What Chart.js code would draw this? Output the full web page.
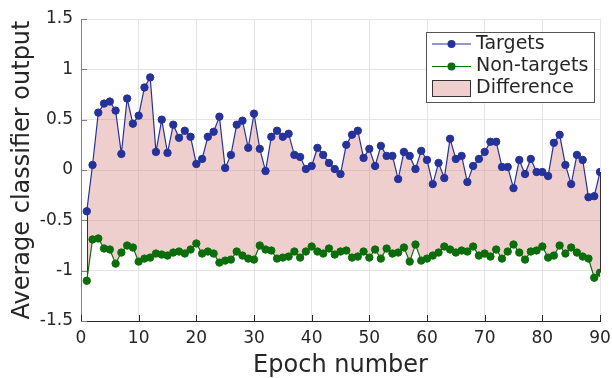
<!DOCTYPE html>
<html>
<head>
<meta charset="utf-8">
<script src="https://cdn.jsdelivr.net/npm/chart.js@4"></script>
<style>
  html, body { margin: 0; padding: 0; background: #fff; }
  #wrap { width: 612px; height: 378px; }
</style>
</head>
<body>
<div id="wrap"><canvas id="lineChart" width="612" height="378"></canvas></div>
<script>
const epochs = [1,2,3,4,5,6,7,8,9,10,11,12,13,14,15,16,17,18,19,20,
  21,22,23,24,25,26,27,28,29,30,31,32,33,34,35,36,37,38,39,40,
  41,42,43,44,45,46,47,48,49,50,51,52,53,54,55,56,57,58,59,60,
  61,62,63,64,65,66,67,68,69,70,71,72,73,74,75,76,77,78,79,80,
  81,82,83,84,85,86,87,88,89,90]

const targets = [-0.41,0.05,0.57,0.66,0.68,0.59,0.16,0.71,0.46,0.54,
  0.82,0.92,0.18,0.50,0.17,0.45,0.32,0.39,0.33,0.06,
  0.11,0.33,0.38,0.53,0.02,0.15,0.45,0.49,0.22,0.56,
  0.21,-0.01,0.33,0.39,0.33,0.36,0.15,0.13,0.01,0.04,
  0.22,0.15,0.07,0.01,-0.04,0.25,0.35,0.39,0.12,0.21,
  0.04,0.24,0.14,0.14,-0.09,0.18,0.14,0.01,0.19,0.10,
  -0.14,0.07,-0.08,0.31,0.11,0.14,-0.12,0.04,0.11,0.18,
  0.28,0.28,0.03,0.03,-0.18,0.10,-0.04,0.11,-0.02,-0.02,
  -0.06,0.27,0.35,0.05,-0.14,0.15,0.10,-0.27,-0.26,-0.02]

const nonTargets = [-1.10,-0.69,-0.68,-0.78,-0.79,-0.93,-0.82,-0.75,-0.77,-0.91,
  -0.88,-0.87,-0.83,-0.84,-0.85,-0.82,-0.81,-0.83,-0.79,-0.73,
  -0.83,-0.81,-0.83,-0.92,-0.90,-0.89,-0.81,-0.85,-0.88,-0.89,
  -0.75,-0.79,-0.80,-0.88,-0.87,-0.86,-0.81,-0.87,-0.81,-0.76,
  -0.81,-0.83,-0.78,-0.84,-0.81,-0.80,-0.87,-0.86,-0.81,-0.87,
  -0.79,-0.88,-0.78,-0.83,-0.82,-0.77,-0.91,-0.74,-0.90,-0.88,
  -0.85,-0.82,-0.76,-0.79,-0.82,-0.80,-0.81,-0.76,-0.85,-0.83,
  -0.86,-0.79,-0.88,-0.81,-0.74,-0.82,-0.89,-0.81,-0.80,-0.76,
  -0.87,-0.85,-0.75,-0.83,-0.77,-0.82,-0.86,-0.88,-1.07,-1.02]

const xTicks = [0,10,20,30,40,50,60,70,80,90]
const yTicks = [-1.5,-1,-0.5,0,0.5,1,1.5]
const yTickLabels = ['-1.5','-1','-0.5','0','0.5','1','1.5']
const seriesNames = ['Targets','Non-targets','Difference']

const blue = '#25329a'
const green = '#0b6e0b'
const pink = 'rgba(212,122,122,0.37)'
const textColor = '#262626'
const fontFamily = '"DejaVu Sans", sans-serif'

const toPoints = (ys) => ys.map((y, i) => ({ x: epochs[i], y: y }))

// inward tick marks plus dark edges of the difference patch
const axisExtras = {
    id: 'axisExtras',
    beforeDatasetsDraw(chart) {
        const { ctx, scales: { x, y } } = chart
        ctx.save()
        ctx.strokeStyle = '#333'
        ctx.lineWidth = 1
        ;[0, epochs.length - 1].forEach(i => {
            const px = Math.round(x.getPixelForValue(epochs[i])) + 0.5
            ctx.beginPath()
            ctx.moveTo(px, y.getPixelForValue(targets[i]))
            ctx.lineTo(px, y.getPixelForValue(nonTargets[i]))
            ctx.stroke()
        })
        ctx.restore()
    },
    afterDraw(chart) {
        const { ctx, chartArea, scales: { x, y } } = chart
        ctx.save()
        ctx.lineWidth = 1
        ctx.strokeStyle = '#262626'
        xTicks.forEach(v => {
            const px = Math.round(x.getPixelForValue(v)) + 0.5
            ctx.beginPath()
            ctx.moveTo(px, chartArea.bottom)
            ctx.lineTo(px, chartArea.bottom - 6)
            ctx.stroke()
        })
        ctx.strokeStyle = '#808080'
        yTicks.forEach(v => {
            const py = Math.round(y.getPixelForValue(v)) + 0.5
            ctx.beginPath()
            ctx.moveTo(chartArea.left, py)
            ctx.lineTo(chartArea.left + 6, py)
            ctx.stroke()
        })
        ctx.restore()
    }
}

// matlab style legend box
const boxLegend = {
    id: 'boxLegend',
    afterDraw(chart) {
        const { ctx } = chart
        const left = 426.5, top = 32.5, w = 168, h = 70
        ctx.save()
        ctx.fillStyle = '#fff'
        ctx.fillRect(left, top, w, h)
        ctx.strokeStyle = '#555'
        ctx.lineWidth = 1
        ctx.strokeRect(left, top, w, h)

        const rows = [44, 66.5, 88]
        const colors = [blue, green]
        for (let i = 0; i < 2; i++) {
            ctx.strokeStyle = colors[i]
            ctx.lineWidth = 1.2
            ctx.beginPath()
            ctx.moveTo(432, rows[i])
            ctx.lineTo(471, rows[i])
            ctx.stroke()
            ctx.fillStyle = colors[i]
            ctx.beginPath()
            ctx.arc(451.5, rows[i], 4, 0, Math.PI * 2)
            ctx.fill()
        }
        ctx.fillStyle = pink
        ctx.fillRect(432.5, 80.5, 38, 16)
        ctx.strokeStyle = '#333'
        ctx.lineWidth = 1
        ctx.strokeRect(432.5, 80.5, 38, 16)

        ctx.fillStyle = textColor
        ctx.font = '19px ' + fontFamily
        ctx.textBaseline = 'middle'
        ctx.textAlign = 'left'
        seriesNames.forEach((name, i) => ctx.fillText(name, 476, rows[i]))
        ctx.restore()
    }
}

const lineChart = new Chart(document.getElementById('lineChart'), {
    type: 'line',
    data: {
        datasets: [{
            label: seriesNames[0],
            data: toPoints(targets),
            borderColor: blue,
            backgroundColor: blue,
            borderWidth: 1.2,
            pointRadius: 3.7,
            pointBorderWidth: 1,
            pointBorderColor: blue,
            pointBackgroundColor: blue,
            tension: 0,
            fill: { target: 1, above: pink, below: pink }
        }, {
            label: seriesNames[1],
            data: toPoints(nonTargets),
            borderColor: green,
            backgroundColor: green,
            borderWidth: 1.2,
            pointRadius: 3.7,
            pointBorderWidth: 1,
            pointBorderColor: green,
            pointBackgroundColor: green,
            tension: 0,
            fill: false
        }]
    },
    options: {
        responsive: false,
        animation: false,
        events: [],
        layout: { padding: { top: 19, right: 12, left: 0, bottom: 0 } },
        plugins: {
            legend: { display: false },
            tooltip: { enabled: false },
            filler: { drawTime: 'beforeDatasetsDraw' }
        },
        scales: {
            x: {
                type: 'linear',
                min: 0,
                max: 90,
                afterFit: (scale) => {
                    scale.height = 57
                    scale.paddingLeft = 0
                    scale.paddingRight = 0
                },
                afterBuildTicks: (scale) => { scale.ticks = xTicks.map(v => ({ value: v })) },
                grid: { color: '#e4e4e4', drawTicks: false },
                border: { display: true, color: '#262626', width: 1 },
                ticks: {
                    padding: 7,
                    color: textColor,
                    font: { family: fontFamily, size: 17 },
                    maxRotation: 0,
                    callback: (v) => String(v)
                },
                title: {
                    display: true,
                    text: 'Epoch number',
                    color: textColor,
                    font: { family: fontFamily, size: 24 },
                    padding: { top: 0, bottom: -2 }
                }
            },
            y: {
                min: -1.5,
                max: 1.5,
                afterFit: (scale) => {
                    scale.width = 81
                    scale.paddingTop = 0
                    scale.paddingBottom = 0
                },
                afterBuildTicks: (scale) => { scale.ticks = yTicks.map(v => ({ value: v })) },
                grid: { color: '#e4e4e4', drawTicks: false },
                border: { display: true, color: '#808080', width: 1 },
                ticks: {
                    padding: 8,
                    color: textColor,
                    font: { family: fontFamily, size: 17 },
                    callback: (v) => yTickLabels[yTicks.indexOf(v)]
                },
                title: {
                    display: true,
                    text: 'Average classifier output',
                    color: textColor,
                    font: { family: fontFamily, size: 24 },
                    padding: { top: 8, bottom: 0 }
                }
            }
        }
    },
    plugins: [axisExtras, boxLegend]
})
</script>
</body>
</html>
